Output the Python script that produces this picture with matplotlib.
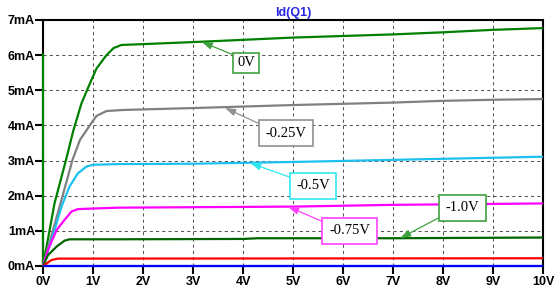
import matplotlib.pyplot as plt

# drain current curves Id(Q1) vs Vds, one per gate voltage (mA)
vds_0 = [0, 0, 0.23, 0.46, 0.61, 0.77, 0.94, 1.07, 1.27, 1.41, 1.57, 1.94, 3.14, 5, 7, 8, 9, 10]
id_0 = [6.05, 0, 1.78, 3.02, 3.87, 4.63, 5.2, 5.62, 6.0, 6.2, 6.29, 6.31, 6.38, 6.5, 6.59, 6.65, 6.72, 6.77]

vds_1 = [0, 0.35, 0.59, 0.74, 0.94, 1.07, 1.27, 1.61, 3.14, 5, 7, 8, 9, 10]
id_1 = [0, 1.78, 3.02, 3.59, 4.01, 4.27, 4.41, 4.44, 4.5, 4.58, 4.65, 4.7, 4.73, 4.75]

vds_2 = [0, 0.17, 0.37, 0.53, 0.7, 0.87, 1.0, 1.5, 3, 5, 7, 10]
id_2 = [0, 0.74, 1.69, 2.26, 2.64, 2.83, 2.88, 2.9, 2.91, 2.96, 3.02, 3.11]

vds_3 = [0, 0.1, 0.27, 0.43, 0.57, 0.7, 1.5, 5, 7, 10]
id_3 = [0, 0.46, 1.02, 1.31, 1.55, 1.62, 1.66, 1.69, 1.74, 1.78]

vds_4 = [0, 0.1, 0.27, 0.43, 0.53, 1.5, 4, 4.3, 7, 10]
id_4 = [0, 0.31, 0.55, 0.72, 0.76, 0.76, 0.77, 0.79, 0.79, 0.81]

vds_5 = [0, 0.17, 0.3, 10]
id_5 = [0, 0.17, 0.21, 0.22]

vds_6 = [0, 10]
id_6 = [0, 0]

curves = [(vds_0, id_0), (vds_1, id_1), (vds_2, id_2), (vds_3, id_3),
          (vds_4, id_4), (vds_5, id_5), (vds_6, id_6)]
colors = ['#008000', '#808080', '#1EC0F0', '#FF00FF', '#006400', '#FF0000', '#0000FF']

x_ticks = list(range(0, 11))
x_labels = [f'{v}V' for v in x_ticks]
y_ticks = list(range(0, 8))
y_labels = [f'{v}mA' for v in y_ticks]

fig = plt.figure(figsize=(5.59, 2.94), dpi=100)
ax = fig.add_axes([43 / 559, 28 / 294, 500 / 559, 246 / 294])

for (xs, ys), c in zip(curves, colors):
    ax.plot(xs, ys, color=c, lw=1.6, clip_on=False, zorder=3,
            solid_capstyle='butt')

ax.set_xlim(0, 10)
ax.set_ylim(0, 7)
ax.set_xticks(x_ticks)
ax.set_xticklabels(x_labels)
ax.set_yticks(y_ticks)
ax.set_yticklabels(y_labels)
for lab in ax.get_xticklabels() + ax.get_yticklabels():
    lab.set_fontfamily('Liberation Sans')
    lab.set_fontweight('bold')
    lab.set_fontsize(9)
ax.tick_params(axis='both', direction='out', length=5.5, width=1.5, color='black')
ax.tick_params(axis='y', pad=0.3)
ax.tick_params(axis='x', pad=1.5)

ax.grid(True, color='#555555', lw=0.75, linestyle=(0, (3, 3)))
ax.set_axisbelow(True)
for sp in ax.spines.values():
    sp.set_linewidth(1.5)
    sp.set_color('black')
    sp.set_zorder(2)

ax.set_title('Id(Q1)', color='#2828E0', fontsize=9, fontweight='bold',
             family='Liberation Sans', pad=3)

# labels with arrows: (text, box center, arrow tip, edge colour, arrow start corner, pad)
labels = [
    ('0V', (4.06, 5.78), (3.17, 6.38), '#3FA03F', (0, 1), 0.25),
    ('-0.25V', (4.86, 3.78), (3.64, 4.5), '#909090', (0, 1), 0.45),
    ('-0.5V', (5.4, 2.28), (4.14, 2.93), '#30E8F0', (0, 1), 0.45),
    ('-0.75V', (6.13, 1.0), (4.9, 1.69), '#FF40FF', (0, 1), 0.45),
    ('-1.0V', (8.39, 1.66), (7.14, 0.79), '#3FA03F', (0, 0), 0.45),
]
for text, pos, tip, ec, rp, pad in labels:
    ax.annotate(text, xy=tip, xytext=pos, ha='center', va='center',
                family='Liberation Serif', fontsize=10.5, color='black', zorder=5,
                bbox=dict(boxstyle=f'square,pad={pad}', fc='white', ec=ec, lw=1.2),
                arrowprops=dict(arrowstyle='-|>,head_length=0.6,head_width=0.2',
                                color=ec, lw=0.9, relpos=rp, shrinkA=0, shrinkB=0))

fig.savefig('out.png', dpi=100)
